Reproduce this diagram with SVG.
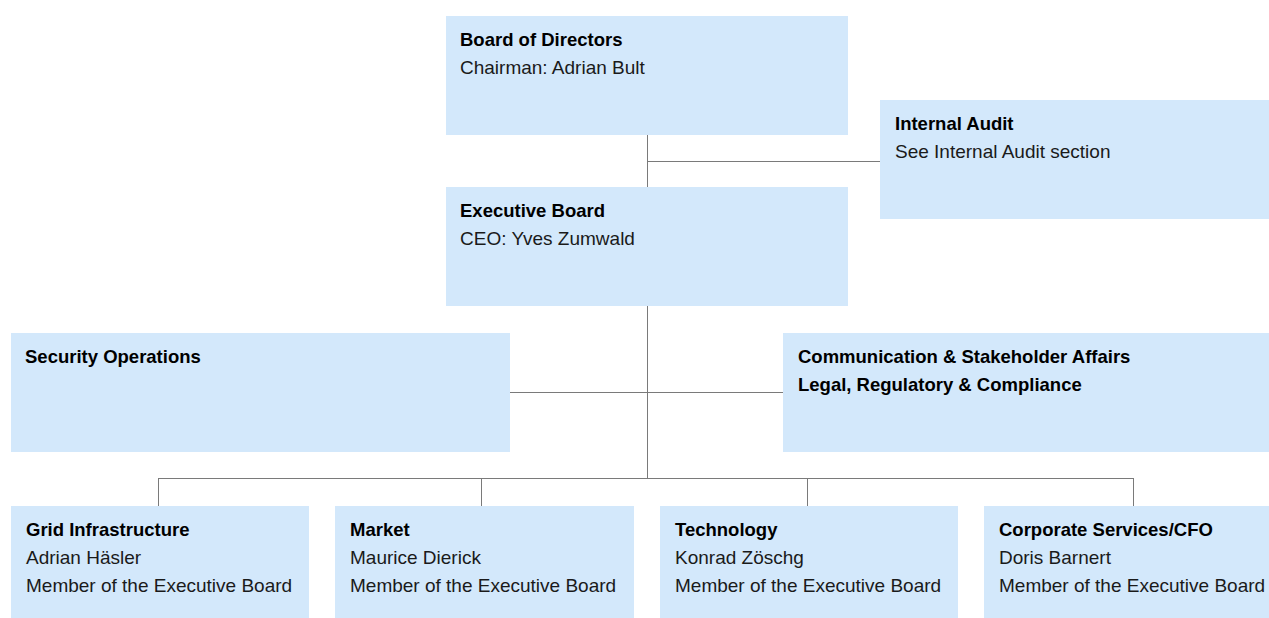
<svg xmlns="http://www.w3.org/2000/svg" width="1269" height="618" viewBox="0 0 1269 618">
<style>
.box{fill:#d3e8fb}
.t{font-family:"Liberation Sans",Arial,sans-serif;font-size:19px;fill:#1a1a1a}
.b{font-weight:bold;font-size:18.5px;fill:#000}
.c{stroke:#7a7a7a;stroke-width:1;fill:none}
</style>
<rect width="1269" height="618" fill="#fff"/>
<g id="connectors">
<path class="c" d="M647.5 135V187M647.5 161.5H880M647.5 306V478M510 392.5H783M158.5 478.5H1133.5M158.5 478V506M481.5 478V506M807.5 478V506M1133.5 478V506"/>
</g>
<g id="board">
<rect class="box" x="446" y="16" width="402" height="119"/>
<text class="t b" x="460" y="46">Board of Directors</text>
<text class="t" x="460" y="74">Chairman: Adrian Bult</text>
</g>
<g id="audit">
<rect class="box" x="880" y="100" width="389" height="119"/>
<text class="t b" x="895" y="130">Internal Audit</text>
<text class="t" x="895" y="158">See Internal Audit section</text>
</g>
<g id="executive">
<rect class="box" x="446" y="187" width="402" height="119"/>
<text class="t b" x="460" y="217">Executive Board</text>
<text class="t" x="460" y="245">CEO: Yves Zumwald</text>
</g>
<g id="security">
<rect class="box" x="11" y="333" width="499" height="119"/>
<text class="t b" x="25" y="363">Security Operations</text>
</g>
<g id="communication">
<rect class="box" x="783" y="333" width="486" height="119"/>
<text class="t b" x="798" y="363">Communication &amp; Stakeholder Affairs</text>
<text class="t b" x="798" y="391">Legal, Regulatory &amp; Compliance</text>
</g>
<g id="grid">
<rect class="box" x="11" y="506" width="298" height="112"/>
<text class="t b" x="26" y="536">Grid Infrastructure</text>
<text class="t" x="26" y="564">Adrian Häsler</text>
<text class="t" x="26" y="592">Member of the Executive Board</text>
</g>
<g id="market">
<rect class="box" x="335" y="506" width="299" height="112"/>
<text class="t b" x="350" y="536">Market</text>
<text class="t" x="350" y="564">Maurice Dierick</text>
<text class="t" x="350" y="592">Member of the Executive Board</text>
</g>
<g id="technology">
<rect class="box" x="660" y="506" width="298" height="112"/>
<text class="t b" x="675" y="536">Technology</text>
<text class="t" x="675" y="564">Konrad Zöschg</text>
<text class="t" x="675" y="592">Member of the Executive Board</text>
</g>
<g id="corporate">
<rect class="box" x="984" y="506" width="285" height="112"/>
<text class="t b" x="999" y="536">Corporate Services/CFO</text>
<text class="t" x="999" y="564">Doris Barnert</text>
<text class="t" x="999" y="592">Member of the Executive Board</text>
</g>
</svg>
